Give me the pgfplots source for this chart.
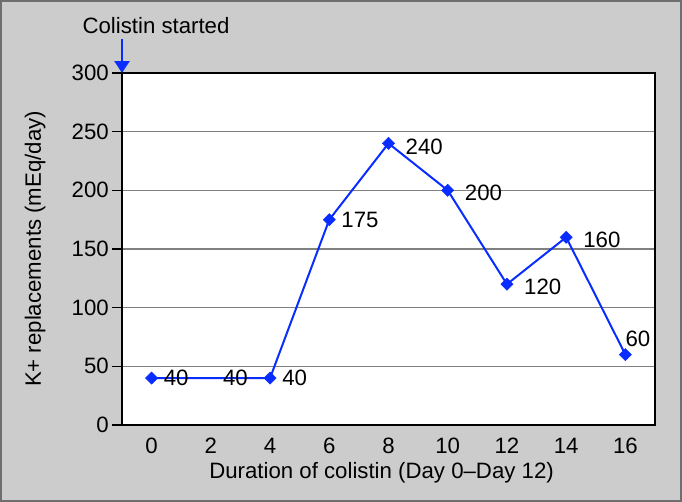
\documentclass[border=0pt]{standalone}
\usepackage{pgfplots}
\pgfplotsset{compat=1.18}
\usepackage{fontspec}
\setmainfont{Liberation Sans}
\usetikzlibrary{arrows.meta}
\definecolor{bggray}{RGB}{204,204,204}
\definecolor{framegray}{RGB}{110,110,110}
\definecolor{gridgray}{RGB}{128,128,128}
\definecolor{lineblue}{RGB}{10,45,255}
\begin{document}
\begin{tikzpicture}[font=\fontsize{22.3}{27}\selectfont]
\fill[bggray] (-122bp,-77bp) rectangle (560bp,425bp);
\begin{axis}[
  at={(0,0)}, anchor=south west,
  scale only axis, width=533bp, height=352bp,
  xmin=-1, xmax=17, ymin=0, ymax=300,
  axis background/.style={fill=white},
  axis line style={black, line width=1.6bp},
  /pgf/number format/assume math mode=true,
  xtick={0,2,...,16},
  minor xtick={-1,1,...,17},
  xtick style={draw=none},
  minor x tick style={black, line width=1.4bp},
  minor tick length=10bp,
  ytick={0,50,...,300},
  y tick style={black, line width=1.4bp},
  major tick length=10bp,
  tick align=outside,
  tick pos=left,
  ymajorgrids,
  major grid style={gridgray, line width=1.3bp},
  xticklabel style={inner sep=2bp, yshift=-1bp},
  yticklabel style={inner sep=2bp, xshift=-1bp},
  clip=false,
  every axis x label/.style={at={(axis description cs:0.487,-0.1506)}, anchor=base},
  every axis y label/.style={at={(axis description cs:-0.1632,0.5)}, rotate=90, anchor=center},
  xlabel={Duration of colistin (Day 0–Day 12)},
  ylabel={K+ replacements (mEq/day)},
]
\addplot[lineblue, line width=2bp, mark=none] coordinates {
  (0,40) (2,40) (4,40) (6,175) (8,240) (10,200) (12,120) (14,160) (16,60)};
\addplot[only marks, mark=square*, mark size=4.3bp, mark options={rotate=45, fill=lineblue, draw=lineblue, line width=0.5bp}] coordinates {
  (0,40) (4,40) (6,175) (8,240) (10,200) (12,120) (14,160) (16,60)};
\addplot[draw=none, mark=none, nodes near coords,
  every node near coord/.style={black, anchor=west, inner sep=1bp, xshift=11bp}] coordinates {
  (0,40) (2,40) (4,40) (6,175)};
\addplot[draw=none, mark=none, nodes near coords,
  every node near coord/.style={black, anchor=west, inner sep=1bp, xshift=16bp, yshift=-3bp}] coordinates {
  (8,240) (10,200) (12,120) (14,160)};
\addplot[draw=none, mark=none, nodes near coords,
  every node near coord/.style={black, anchor=south west, inner sep=1bp, xshift=-1bp, yshift=7bp}] coordinates {
  (16,60)};
\draw[lineblue, line width=2.8bp, -{Triangle[width=15bp,length=12bp]}] ([yshift=34bp]rel axis cs:0,1) -- (rel axis cs:0,1);
\node[anchor=base, inner sep=0pt] at ([xshift=34bp, yshift=40bp]rel axis cs:0,1) {Colistin started};
\end{axis}
\draw[framegray, line width=2.4bp] (-120.8bp,-75.8bp) rectangle (558.8bp,423.8bp);
\pgfresetboundingbox
\useasboundingbox (-122bp,-77bp) rectangle (560bp,425bp);
\end{tikzpicture}
\end{document}
